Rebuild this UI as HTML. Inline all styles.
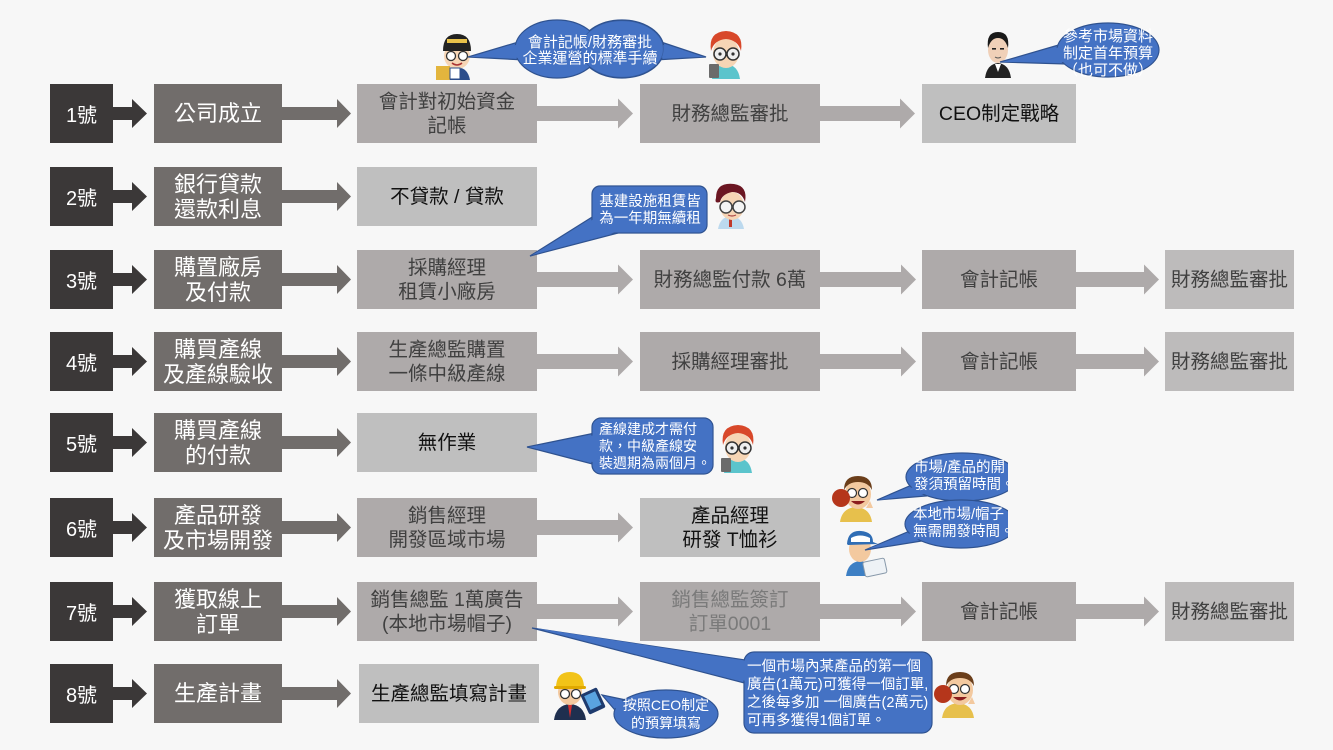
<!DOCTYPE html>
<html><head><meta charset="utf-8">
<style>
html,body{margin:0;padding:0}
body{width:1333px;height:750px;background:#f7f7f7;position:relative;overflow:hidden;font-family:"Liberation Sans","Noto Sans CJK TC",sans-serif}
.b{position:absolute;display:flex;align-items:center;justify-content:center;text-align:center;box-sizing:border-box;height:59px;white-space:nowrap}
.n{left:50px;width:63px;background:#3b3838;color:#fff;font-size:20px}
.l{left:154px;width:128px;background:#716d6b;color:#fff;font-size:22px;line-height:25px}
.s{background:#aeaaaa;color:#404040;font-size:19.5px;line-height:24px}
.lt{background:#bfbfbf;color:#111}
.la{background:#bdbbbb;color:#404040}
.c1{left:357px;width:180px}
.c2{left:640px;width:180px}
.c3{left:922px;width:154px}
.c4{left:1165px;width:129px}
svg{position:absolute;left:0;top:0}
</style></head><body>

<svg width="1333" height="750">
<defs>
<path id="ad" d="M0,-6.5H19V-14.5L34,0L19,14.5V6.5H0Z" fill="#3b3838"/>
<path id="am" d="M0,-6.5H55V-14.5L69,0L55,14.5V6.5H0Z" fill="#716d6b"/>
<path id="as" d="M0,-7.5H81V-15L96,0L81,15V7.5H0Z" fill="#aeaaaa"/>
<path id="at" d="M0,-7.5H68V-15L83,0L68,15V7.5H0Z" fill="#aeaaaa"/>
</defs>
<use href="#ad" transform="translate(113,113.5)"/>
<use href="#ad" transform="translate(113,196.5)"/>
<use href="#ad" transform="translate(113,279.5)"/>
<use href="#ad" transform="translate(113,361.5)"/>
<use href="#ad" transform="translate(113,442.5)"/>
<use href="#ad" transform="translate(113,527.5)"/>
<use href="#ad" transform="translate(113,611.5)"/>
<use href="#ad" transform="translate(113,693.5)"/>
<use href="#am" transform="translate(282,113.5)"/>
<use href="#am" transform="translate(282,196.5)"/>
<use href="#am" transform="translate(282,279.5)"/>
<use href="#am" transform="translate(282,361.5)"/>
<use href="#am" transform="translate(282,442.5)"/>
<use href="#am" transform="translate(282,527.5)"/>
<use href="#am" transform="translate(282,611.5)"/>
<use href="#am" transform="translate(282,693.5)"/>
<!-- row1 -->
<use href="#as" transform="translate(537,113.5)"/>
<use href="#as" transform="translate(819,113.5)"/>
<!-- row3 -->
<use href="#as" transform="translate(537,279.5)"/>
<use href="#as" transform="translate(820,279.5)"/>
<use href="#at" transform="translate(1076,279.5)"/>
<!-- row4 -->
<use href="#as" transform="translate(537,361.5)"/>
<use href="#as" transform="translate(820,361.5)"/>
<use href="#at" transform="translate(1076,361.5)"/>
<!-- row6 -->
<use href="#as" transform="translate(537,527.5)"/>
<!-- row7 -->
<use href="#as" transform="translate(537,611.5)"/>
<use href="#as" transform="translate(820,611.5)"/>
<use href="#at" transform="translate(1076,611.5)"/>
</svg>

<!-- row 1 -->
<div class="b n" style="top:84px">1號</div>
<div class="b l" style="top:84px">公司成立</div>
<div class="b s c1" style="top:84px">會計對初始資金<br>記帳</div>
<div class="b s c2" style="top:84px">財務總監審批</div>
<div class="b s lt c3" style="top:84px">CEO制定戰略</div>
<!-- row 2 -->
<div class="b n" style="top:167px">2號</div>
<div class="b l" style="top:167px">銀行貸款<br>還款利息</div>
<div class="b s lt c1" style="top:167px">不貸款 / 貸款</div>
<!-- row 3 -->
<div class="b n" style="top:250px">3號</div>
<div class="b l" style="top:250px">購置廠房<br>及付款</div>
<div class="b s c1" style="top:250px">採購經理<br>租賃小廠房</div>
<div class="b s c2" style="top:250px">財務總監付款 6萬</div>
<div class="b s c3" style="top:250px">會計記帳</div>
<div class="b s la c4" style="top:250px">財務總監審批</div>
<!-- row 4 -->
<div class="b n" style="top:332px">4號</div>
<div class="b l" style="top:332px">購買產線<br>及產線驗收</div>
<div class="b s c1" style="top:332px">生產總監購置<br>一條中級產線</div>
<div class="b s c2" style="top:332px">採購經理審批</div>
<div class="b s c3" style="top:332px">會計記帳</div>
<div class="b s la c4" style="top:332px">財務總監審批</div>
<!-- row 5 -->
<div class="b n" style="top:413px">5號</div>
<div class="b l" style="top:413px">購買產線<br>的付款</div>
<div class="b s lt c1" style="top:413px">無作業</div>
<!-- row 6 -->
<div class="b n" style="top:498px">6號</div>
<div class="b l" style="top:498px">產品研發<br>及市場開發</div>
<div class="b s c1" style="top:498px">銷售經理<br>開發區域市場</div>
<div class="b s lt c2" style="top:498px">產品經理<br>研發 T恤衫</div>
<!-- row 7 -->
<div class="b n" style="top:582px">7號</div>
<div class="b l" style="top:582px">獲取線上<br>訂單</div>
<div class="b s c1" style="top:582px">銷售總監 1萬廣告<br>(本地市場帽子)</div>
<div class="b s c2" style="top:582px;color:#7a7a7a">銷售總監簽訂<br>訂單0001</div>
<div class="b s c3" style="top:582px">會計記帳</div>
<div class="b s la c4" style="top:582px">財務總監審批</div>
<!-- row 8 -->
<div class="b n" style="top:664px">8號</div>
<div class="b l" style="top:664px">生產計畫</div>
<div class="b s lt c1" style="top:664px;left:359px">生產總監填寫計畫</div>

<svg width="1333" height="750" font-family="Liberation Sans, Noto Sans CJK TC, sans-serif">
<defs>
<clipPath id="clipR"><rect x="0" y="0" width="1008" height="750"/></clipPath>
<!-- characters -->
<g id="chB">
<path d="M6,50 Q8,36 20,35 Q32,36 34,50Z" fill="#5bc4cc"/>
<ellipse cx="20" cy="24" rx="13" ry="15" fill="#f6d5b5"/>
<path d="M5,22 Q2,3 20,2 Q38,3 35,22 Q32,11 20,10 Q8,11 5,22Z" fill="#d8482a"/>
<circle cx="14" cy="25" r="6" fill="#eee" stroke="#333" stroke-width="1.5"/>
<circle cx="27" cy="25" r="6" fill="#eee" stroke="#333" stroke-width="1.5"/>
<circle cx="14" cy="25" r="1.6" fill="#333"/><circle cx="27" cy="25" r="1.6" fill="#333"/>
<rect x="3" y="35" width="10" height="14" rx="1" fill="#6b6b6b"/>
</g>
<g id="chA">
<path d="M8,50 Q10,38 21,37 Q32,38 34,50Z" fill="#2c4d8a"/>
<ellipse cx="21" cy="26" rx="13" ry="13" fill="#f6d5b5"/>
<path d="M7,21 Q7,4 21,4 Q35,4 35,21Z" fill="#222"/>
<rect x="11" y="9" width="20" height="4" fill="#e8c14a"/>
<circle cx="15" cy="26" r="4.5" fill="#fff" stroke="#333" stroke-width="1.3"/>
<circle cx="27" cy="26" r="4.5" fill="#fff" stroke="#333" stroke-width="1.3"/>
<path d="M16,33 Q21,37 26,33" stroke="#a33" stroke-width="1.5" fill="none"/>
<rect x="0" y="36" width="14" height="14" fill="#e3b53d"/>
<rect x="14" y="38" width="10" height="11" fill="#fff" stroke="#2c4d8a"/>
</g>
<g id="chC">
<path d="M2,48 Q4,34 15,33 Q26,34 28,48Z" fill="#222"/>
<path d="M12,34 L15,42 L18,34Z" fill="#fff"/>
<ellipse cx="15" cy="20" rx="10" ry="13" fill="#f0d0b8"/>
<path d="M5,18 Q3,2 15,2 Q27,2 25,18 Q22,8 15,8 Q8,8 5,18Z" fill="#1a1a1a"/>
<rect x="9" y="18" width="4" height="1.6" fill="#222"/><rect x="17" y="18" width="4" height="1.6" fill="#222"/>
<path d="M12,27 Q15,29 18,27" stroke="#555" stroke-width="1" fill="none"/>
</g>
<g id="chD">
<path d="M6,47 Q8,35 19,34 Q30,35 32,47Z" fill="#bcd9ee"/>
<rect x="17" y="36" width="3" height="9" fill="#c0392b"/>
<ellipse cx="20" cy="24" rx="12" ry="14" fill="#f6d5b5"/>
<path d="M4,16 Q4,0 22,2 Q36,4 33,20 Q30,10 20,10 Q10,12 8,20 Q2,22 4,16Z" fill="#6b1622"/>
<circle cx="14" cy="25" r="6" fill="#f4f4f4" stroke="#444" stroke-width="1.5"/>
<circle cx="27" cy="25" r="6" fill="#f4f4f4" stroke="#444" stroke-width="1.5"/>
<path d="M16,33 Q20,35 24,33" stroke="#a44" stroke-width="1.2" fill="none"/>
</g>
<g id="chF">
<path d="M8,48 Q10,34 24,33 Q38,34 40,48Z" fill="#e7c04c"/>
<ellipse cx="26" cy="20" rx="13" ry="15" fill="#f3c99f"/>
<path d="M12,16 Q12,2 26,2 Q40,2 40,16 Q36,8 26,8 Q16,8 12,16Z" fill="#6b3e1a"/>
<circle cx="20" cy="19" r="4.5" fill="#fff" stroke="#333" stroke-width="1.2"/>
<circle cx="31" cy="19" r="4.5" fill="#fff" stroke="#333" stroke-width="1.2"/>
<path d="M19,27 Q26,34 33,27Z" fill="#8b1d1d"/>
<circle cx="9" cy="24" r="9" fill="#b5361b"/>
<path d="M34,34 L38,27 L41,34Z" fill="#f3c99f"/>
</g>
<g id="chG">
<path d="M4,48 Q6,34 18,33 Q30,34 32,48Z" fill="#3d7fc4"/>
<ellipse cx="18" cy="21" rx="11" ry="13" fill="#f3c99f"/>
<path d="M5,16 Q6,2 19,3 Q31,4 31,14 L36,16 L6,17Z" fill="#2f6db5"/>
<path d="M9,10 Q18,5 28,10 L28,14 L9,14Z" fill="#fff"/>
<rect x="22" y="32" width="22" height="15" rx="2" fill="#eef2f6" stroke="#8899aa" transform="rotate(-12 33 40)"/>
</g>
<g id="chI">
<path d="M4,50 Q6,35 20,34 Q34,35 36,50Z" fill="#1f2f4f"/>
<path d="M18,35 L20,48 L22,35Z" fill="#d32f2f"/>
<ellipse cx="20" cy="22" rx="12" ry="13" fill="#f3c99f"/>
<path d="M6,18 Q6,2 20,2 Q34,2 34,18Z" fill="#f2c318"/>
<rect x="4" y="16" width="32" height="3" rx="1.5" fill="#e0a800"/>
<circle cx="15" cy="24" r="4.5" fill="#fff" stroke="#333" stroke-width="1.3"/>
<circle cx="26" cy="24" r="4.5" fill="#fff" stroke="#333" stroke-width="1.3"/>
<rect x="34" y="20" width="18" height="22" rx="2" fill="#1f3b6e" transform="rotate(-25 43 31)"/>
<rect x="37" y="23" width="12" height="15" fill="#5aa3e0" transform="rotate(-25 43 31)"/>
</g>
</defs>

<!-- characters placed -->
<use href="#chA" transform="translate(436,30)"/>
<use href="#chB" transform="translate(706,29)"/>
<use href="#chC" transform="translate(983,30)"/>
<use href="#chD" transform="translate(712,182)"/>
<use href="#chB" transform="translate(718,423)"/>
<use href="#chF" transform="translate(832,474)"/>
<use href="#chG" transform="translate(842,528)"/>
<use href="#chF" transform="translate(934,670)"/>
<use href="#chI" transform="translate(550,670)"/>

<!-- callout top double ellipse -->
<g stroke="#2f528f" stroke-width="1.2" fill="#4472c4">
<polygon points="525,40 468,57 525,60"/>
<polygon points="655,40 706,57 655,60"/>
<ellipse cx="557" cy="49" rx="42" ry="29"/>
<ellipse cx="622" cy="49" rx="42" ry="29"/>
</g>
<g fill="#4472c4">
<polygon points="527,42 470,57 527,58"/>
<polygon points="653,42 704,57 653,58"/>
<ellipse cx="557" cy="49" rx="41.3" ry="28.3"/>
</g>
<ellipse cx="622" cy="49" rx="41.3" ry="28.3" fill="none" stroke="#2f528f" stroke-width="0.8" opacity="0.6"/>
<text x="590" y="47" font-size="15" fill="#fff" text-anchor="middle">會計記帳/財務審批</text>
<text x="590" y="63" font-size="15" fill="#fff" text-anchor="middle">企業運營的標準手續</text>

<!-- CEO callout -->
<g stroke="#2f528f" stroke-width="1.2" fill="#4472c4">
<polygon points="1062,44 1000,62 1066,64"/>
<ellipse cx="1108" cy="50" rx="51" ry="27"/>
</g>
<g fill="#4472c4"><polygon points="1064,46 1002,62 1066,62"/><ellipse cx="1108" cy="50" rx="50.3" ry="26.3"/></g>
<text x="1108" y="41" font-size="15" fill="#fff" text-anchor="middle">參考市場資料</text>
<text x="1108" y="58" font-size="15" fill="#fff" text-anchor="middle">制定首年預算</text>
<text x="1108" y="75" font-size="15" fill="#fff" text-anchor="middle">（也可不做）</text>

<!-- row3 callout -->
<g stroke="#2f528f" stroke-width="1.2" fill="#4472c4">
<polygon points="597,214 530,256 622,232"/>
<rect x="592" y="186" width="115" height="47" rx="8"/>
</g>
<g fill="#4472c4"><polygon points="599,216 532,255 620,231"/><rect x="592.6" y="186.6" width="113.8" height="45.8" rx="8"/></g>
<text x="650" y="206" font-size="14.5" fill="#fff" text-anchor="middle">基建設施租賃皆</text>
<text x="650" y="223" font-size="14.5" fill="#fff" text-anchor="middle">為一年期無續租</text>

<!-- row5 callout -->
<g stroke="#2f528f" stroke-width="1.2" fill="#4472c4">
<polygon points="600,432 527,447 600,466"/>
<rect x="592" y="418" width="121" height="56" rx="9"/>
</g>
<g fill="#4472c4"><polygon points="601,434 529,447 601,464"/><rect x="592.6" y="418.6" width="119.8" height="54.8" rx="9"/></g>
<text x="599" y="434" font-size="14" fill="#fff">產線建成才需付</text>
<text x="599" y="451" font-size="14" fill="#fff">款，中級產線安</text>
<text x="599" y="468" font-size="14" fill="#fff">裝週期為兩個月。</text>

<!-- row6 callouts (clipped) -->
<g clip-path="url(#clipR)">
<g stroke="#2f528f" stroke-width="1.2" fill="#4472c4">
<polygon points="914,484 877,500 926,496"/>
<ellipse cx="962" cy="477" rx="56" ry="24"/>
</g>
<g fill="#4472c4"><polygon points="916,486 879,500 924,494"/><ellipse cx="962" cy="477" rx="55.3" ry="23.3"/></g>
<text x="914" y="472" font-size="14.5" fill="#fff">市場/產品的開</text>
<text x="914" y="489" font-size="14.5" fill="#fff">發須預留時間。</text>
<g stroke="#2f528f" stroke-width="1.2" fill="#4472c4">
<polygon points="912,530 865,550 922,541"/>
<ellipse cx="961" cy="524" rx="56" ry="24"/>
</g>
<g fill="#4472c4"><polygon points="914,532 867,549 920,539"/><ellipse cx="961" cy="524" rx="55.3" ry="23.3"/></g>
<text x="913" y="519" font-size="14.5" fill="#fff">本地市場/帽子</text>
<text x="913" y="536" font-size="14.5" fill="#fff">無需開發時間。</text>
</g>

<!-- row7 long callout -->
<g stroke="#2f528f" stroke-width="1.2" fill="#4472c4">
<polygon points="532,628 752,661 752,685"/>
<rect x="744" y="652" width="188" height="81" rx="10"/>
</g>
<g fill="#4472c4"><polygon points="535,628 754,662 754,683"/><rect x="744.6" y="652.6" width="186.8" height="79.8" rx="10"/></g>
<text x="747" y="671" font-size="14.5" fill="#fff">一個市場內某產品的第一個</text>
<text x="747" y="689" font-size="14.5" fill="#fff">廣告(1萬元)可獲得一個訂單,</text>
<text x="747" y="707" font-size="14.5" fill="#fff">之後每多加 一個廣告(2萬元)</text>
<text x="747" y="725" font-size="14.5" fill="#fff">可再多獲得1個訂單。</text>

<!-- row8 callout -->
<g stroke="#2f528f" stroke-width="1.2" fill="#4472c4">
<polygon points="626,700 602,695 620,716"/>
<ellipse cx="666" cy="714" rx="52" ry="24"/>
</g>
<g fill="#4472c4"><polygon points="626,702 604,696 621,714"/><ellipse cx="666" cy="714" rx="51.3" ry="23.3"/></g>
<text x="666" y="710" font-size="14" fill="#fff" text-anchor="middle">按照CEO制定</text>
<text x="666" y="728" font-size="14" fill="#fff" text-anchor="middle">的預算填寫</text>
</svg>
</body></html>
